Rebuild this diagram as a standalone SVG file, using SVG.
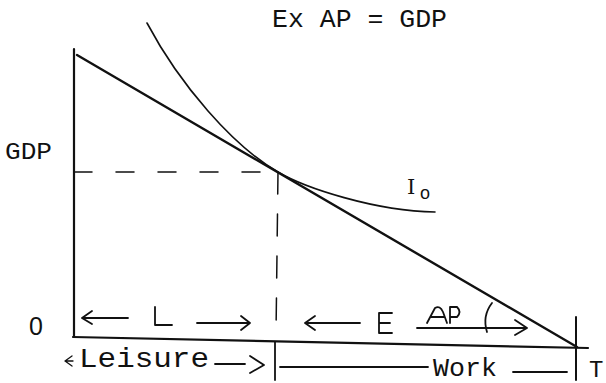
<svg xmlns="http://www.w3.org/2000/svg" width="606" height="383" viewBox="0 0 606 383">
<style>
.ln{stroke:#111;fill:none;stroke-linecap:round;stroke-linejoin:round}
.mono{font-family:"Liberation Mono","Courier New",monospace;fill:#111}
.hand{font-family:"Liberation Sans",Arial,sans-serif;fill:#111}
</style>
<rect width="606" height="383" fill="#fff"/>
<g id="title"><text class="mono" x="272" y="27" font-size="25" textLength="175" lengthAdjust="spacingAndGlyphs">Ex AP = GDP</text></g>
<g id="axes">
<line class="ln" x1="74" y1="49" x2="74" y2="337" stroke-width="2.2"/>
<line class="ln" x1="73" y1="337" x2="588" y2="348" stroke-width="2.2"/>
<line class="ln" x1="576" y1="317" x2="576" y2="380" stroke-width="2"/>
<line class="ln" x1="275" y1="342" x2="275" y2="380" stroke-width="1.8"/>
</g>
<g id="budget-line"><line class="ln" x1="77" y1="55" x2="577" y2="347" stroke-width="2.4"/></g>
<g id="indifference-curve"><path class="ln" stroke-width="1.6" d="M147 23 C180 85 233 146 278 172 C305 188 375 211 435 212"/></g>
<g id="connectors">
<line class="ln" x1="74" y1="172" x2="280" y2="172" stroke-width="1.5" stroke-dasharray="18 24"/>
<line class="ln" x1="278" y1="172" x2="276" y2="335" stroke-width="1.5" stroke-dasharray="22 20"/>
</g>
<g id="labels">
<text class="mono" x="5" y="159" font-size="24" textLength="47" lengthAdjust="spacingAndGlyphs">GDP</text>
<text class="hand" x="29" y="335" font-size="25">0</text>
<text x="407" y="194" font-family="DejaVu Serif,serif" font-size="21" fill="#111">I</text>
<text class="hand" x="420" y="199" font-size="18">o</text>
<text class="mono" x="79" y="367" font-size="27" textLength="130" lengthAdjust="spacingAndGlyphs">Leisure</text>
<text class="mono" x="433" y="376" font-size="25" textLength="64" lengthAdjust="spacingAndGlyphs">Work</text>
<text class="mono" x="589" y="377" font-size="24">T</text>
</g>
<g id="handwritten" class="ln" stroke-width="1.8">
<path d="M82 318 H128 M82 318 L92 311 M82 318 L92 324"/>
<path d="M155 307 V325 H172"/>
<path d="M197 323 H250 M250 323 L241 316 M250 323 L241 330"/>
<path d="M305 323 H360 M305 323 L315 316 M305 323 L315 330"/>
<path d="M392 313 H379 V333 H392 M379 323 H390"/>
<path d="M427 323 L435 308 Q440 305 443 312 L447 323 M431 317 H444"/>
<path d="M450 323 V307 H457 Q462 312 457 317 H450"/>
<path d="M417 328 H527 M527 328 L515 320 M527 328 L515 335"/>
<path d="M492 303 Q482 316 487 332"/>
<path d="M72 356 L65 361 L72 366 M65 361 H73" stroke-width="1.3"/>
<path d="M215 364 H245 M250 356 L264 365 L250 373"/>
<path d="M280 367 H428 M513 372 H567"/>
</g>
</svg>
